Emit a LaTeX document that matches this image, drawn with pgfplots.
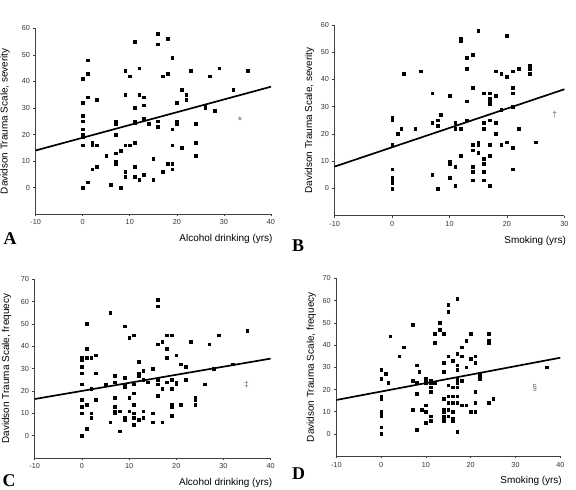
\documentclass[border=0pt]{standalone}
\usepackage{fontspec}
\setmainfont{Liberation Sans}
\newfontfamily\letterfont{Liberation Serif}
\usepackage{pgfplots}
\pgfplotsset{compat=1.18}
\pgfplotsset{
  dts/.style={
    scale only axis,
    axis lines*=left,
    axis line style={line width=0.75bp, black!75},
    tick style={line width=0.6bp, black!75},
    tick align=outside,
    major tick length=2.2bp,
    tick label style={font=\fontsize{7.3}{8}\selectfont, text=black!80},
    /pgf/number format/assume math mode=true,
    ylabel style={font=\fontsize{10.5}{12}\selectfont, text=black!85},
    xlabel style={font=\fontsize{9.5}{11}\selectfont, text=black!85},
    every axis x label/.style={at={(axis description cs:1,0)}, anchor=east, xshift=5bp, yshift=-25bp},
    clip=false,
  },
  dots/.style={only marks, mark=square*, mark size=1.35bp, mark options={draw=black, fill=black}},
  fit/.style={no marks, line width=1.7bp, black},
}

\pgfplotstableread{
x y
0 41
0 32
0 27
0 25
0 22
0 20
0 19
0 16
0 0
1 48
1 43
1 34
1 2
2 17
2 16
2 7
3 33
3 16
3 8
5 12
6 1
7 25
7 24.5
7 24
7 20
7 13
7 10
7 9
8 14
8 0
9 44
9 35
9 16
9 6
9 4
10 42
10 16
11 55
11 30
11 25
11 24.5
11 17
11 8
11 4
12 45
12 35
12 3
13 34
13 31
13 26
13 5
14 24
15 11
15 3
16 58
16 54
16 25
16 23
17 42
17 6
18 56
18 43
18 9
19 49
19 22
19 16
19 9
19 7
20 32
20 25
20 24
21 37
21 15
22 35
22 33
23 44
24 24
24 17
24 12
26 31
26 30
27 42
28 29
29 45
32 37
35 44
}\dataA

\pgfplotstableread{
x y
0 26
0 25.5
0 25
0 16
0 7
0 4
0 3
0 2
0 0
1 20
1.6 22
2 42
4 22
5 43
7 35
7 24
7 5
8 25
8 23
8.5 27
8 0
10 34
10 10
10 9
10 4
11 24
11 22
11 8
11 1
12 55
12 54
12 22
12 12
13 48
13 44
13 32
13 25
14 49
14 37
14 16
14 14
14 8
14 6
14 3
15 58
15 17
15 16
15 13
16 35
16 24
16 22
16 11
16 9
16 6
16 3
17 35
17 33
17 32
17 31
17 25
17 16
17 12
17 1
18 43
18 34
18 24
18 20
19 42
19 29
19 16
20 56
20 41
20 17
21 43
21 37
21 35
21 30
21 15
21 7
22 44
22 22
24 45
24 44
24 42
25 17
}\dataB

\pgfplotstableread{
x y
0 35
0 34
0 31
0 28
0 23
0 16
0 13
0 10
0 0
1 50
1 39
1 35
1 14
1 3
2 35
2 21
2 10
2 8
3 36
3 28
3 16
5 23
6 55
6 6
7 27
7 24
7 17
7 13
7 11
7 10
8 11
8 2
9 49
9 26
9 23
9 22
9 8
9 7
10 44
10 17
10 11
11 45
11 23
11 19
11 14
11 10
11 8
11 5
12 33
12 28
12 27
12 7
13 29
13 25
13 11
13 8
14 24
15 30
15 10
15 6
16 61
16 58
16 41
16 25
16 23
16 18
17 42
17 21
17 6
18 45
18 39
18 35
18 24
19 45
19 25
19 21
19 14
19 13
19 9
20 36
20 24
20 23
21 32
21 14
22 31
22 25
23 42
24 17
24 16
24 14
26 23
27 41
28 30
29 45
32 32
35 47
}\dataC

\pgfplotstableread{
x y
0 29
0 25
0 17
0 16
0 10
0 9
0 8
0 3
0 0
1 27
1.6 23
2 44
4 35
5 39
7 49
7 24
7 11
8 31
8 23
8 18
8 2
8.5 28
9 11
10 25
10 24
10 23
10 13
10 10
10 5
11 24
11 23
11 21
11 19
11 8
11 6
12 45
12 41
12 23
13 50
13 47
14 45
14 32
14 28
14 16
14 11
14 10
14 8
14 7
14 6
15 58
15 55
15 35
15 22
15 17
15 14
15 11
15 8
16 33
16 21
16 17
16 14
16 10
16 7
16 6
17 61
17 36
17 31
17 29
17 25
17 23
17 21
17 17
17 14
17 1
18 39
18 35
18 24
18 13
19 42
19 30
19 13
20 45
20 34
20 10
21 35
21 32
21 19
21 14
21 10
22 27
22 26
22 25
24 45
24 42
24 41
24 14
25 16
37 30
}\dataD

\begin{document}
\begin{tikzpicture}
\path[use as bounding box] (0,0) rectangle (576bp,490bp);

% Panel A
\begin{axis}[dts, at={(35.67bp,275.8bp)}, anchor=south west,
  width=235.3bp, height=185.9bp,
  xmin=-10, xmax=40, ymin=-10, ymax=60,
  xtick={-10,0,10,20,30,40}, ytick={0,10,20,30,40,50,60},
  every axis y label/.style={at={(axis description cs:-0.13,0.5)}, rotate=90, anchor=center},
  xlabel={Alcohol drinking (yrs)}, ylabel={Davidson Trauma Scale, severity}]
\addplot[dots] table[x=x,y=y] {\dataA};
\addplot[fit] coordinates {(-10,14) (40,38)};
\node[text=black!60, font=\fontsize{11}{12}\selectfont] at (axis cs:33.4,25.3) {*};
\end{axis}

% Panel B
\begin{axis}[dts, at={(334.67bp,274.4bp)}, anchor=south west,
  width=229.7bp, height=190.6bp,
  xmin=-10, xmax=30, ymin=-10, ymax=60,
  xtick={-10,0,10,20,30}, ytick={0,10,20,30,40,50,60},
  every axis y label/.style={at={(axis description cs:-0.109,0.5)}, rotate=90, anchor=center},
  xlabel={Smoking (yrs)}, ylabel={Davidson Trauma Scale, severity}]
\addplot[dots] table[x=x,y=y] {\dataB};
\addplot[fit] coordinates {(-10,8) (30,36.4)};
\node[text=black!60, font=\fontsize{8.5}{9}\selectfont] at (axis cs:28.3,27) {†};
\end{axis}

% Panel C
\begin{axis}[dts, at={(34.67bp,32bp)}, anchor=south west,
  width=236bp, height=178.7bp,
  xmin=-10, xmax=40, ymin=-10, ymax=70,
  xtick={-10,0,10,20,30,40}, ytick={0,10,20,30,40,50,60,70},
  every axis y label/.style={at={(axis description cs:-0.119,0.5)}, rotate=90, anchor=center},
  xlabel={Alcohol drinking (yrs)}, ylabel={Davidson Trauma Scale, frequecy}]
\addplot[dots] table[x=x,y=y] {\dataC};
\addplot[fit] coordinates {(-10,16.4) (40,34.5)};
\node[text=black!60, font=\fontsize{8.5}{9}\selectfont] at (axis cs:34.9,22.7) {‡};
\end{axis}

% Panel D
\begin{axis}[dts, at={(336.33bp,33.76bp)}, anchor=south west,
  width=224bp, height=177.9bp,
  xmin=-10, xmax=40, ymin=-10, ymax=70,
  xtick={-10,0,10,20,30,40}, ytick={0,10,20,30,40,50,60,70},
  every axis y label/.style={at={(axis description cs:-0.112,0.5)}, rotate=90, anchor=center},
  xlabel={Smoking (yrs)}, ylabel={Davidson Trauma Scale, frequecy}]
\addplot[dots] table[x=x,y=y] {\dataD};
\addplot[fit] coordinates {(-10,15.3) (40,34.3)};
\node[text=black!60, font=\fontsize{8.5}{9}\selectfont] at (axis cs:34.3,20.8) {§};
\end{axis}

% Panel letters
\node[font=\letterfont\bfseries\fontsize{18}{20}\selectfont] at (10bp,251bp) {A};
\node[font=\letterfont\bfseries\fontsize{18}{20}\selectfont] at (298bp,244.5bp) {B};
\node[font=\letterfont\bfseries\fontsize{18}{20}\selectfont] at (9bp,9.5bp) {C};
\node[font=\letterfont\bfseries\fontsize{18}{20}\selectfont] at (298.5bp,16bp) {D};
\end{tikzpicture}
\end{document}
